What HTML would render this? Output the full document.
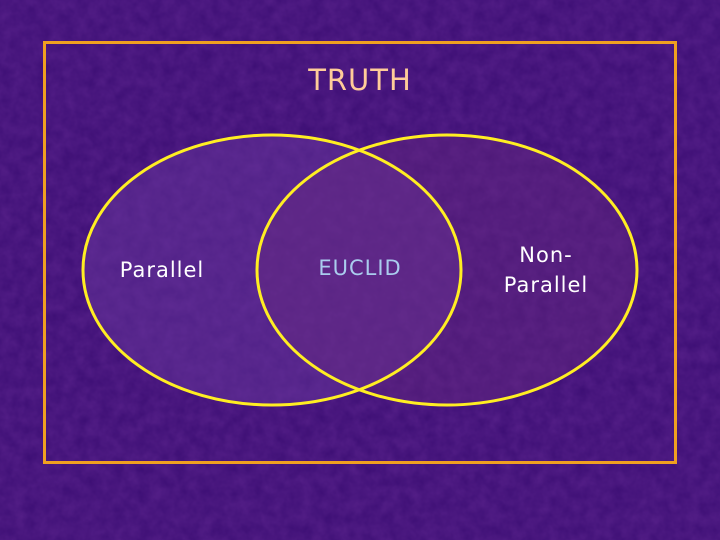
<!DOCTYPE html>
<html><head><meta charset="utf-8"><style>
html,body{margin:0;padding:0;width:720px;height:540px;overflow:hidden;background:#3c0e74}
svg{display:block}
text{font-family:"Comic Sans MS","DejaVu Sans","Liberation Sans",sans-serif}
</style></head><body>
<svg width="720" height="540" viewBox="0 0 720 540">
<defs>
<filter id="tex" x="0" y="0" width="100%" height="100%">
<feTurbulence type="fractalNoise" baseFrequency="0.08" numOctaves="3" seed="3"/>
<feColorMatrix values="0 0 0 0 0.32  0 0 0 0 0.08  0 0 0 0 0.52  0 0 0 0.6 0"/>
</filter>
</defs>
<rect x="0" y="0" width="720" height="540" fill="#3c0e74"/>
<rect x="0" y="0" width="720" height="540" filter="url(#tex)" opacity="0.45"/>
<rect x="44.5" y="42.5" width="631" height="420" fill="none" stroke="#f0a020" stroke-width="3"/>
<text x="360" y="90" text-anchor="middle" font-size="29" letter-spacing="1" fill="#ffcc99">TRUTH</text>
<ellipse cx="272" cy="270" rx="189" ry="135" fill="#6a3aa0" fill-opacity="0.45"/>
<ellipse cx="447" cy="270" rx="190" ry="135" fill="#6a2a80" fill-opacity="0.4"/>
<ellipse cx="272" cy="270" rx="189" ry="135" fill="none" stroke="#ffee22" stroke-width="3"/>
<ellipse cx="447" cy="270" rx="190" ry="135" fill="none" stroke="#ffee22" stroke-width="3"/>
<text x="162" y="277" text-anchor="middle" font-size="21" letter-spacing="1" fill="#ffffff">Parallel</text>
<text x="360" y="275" text-anchor="middle" font-size="21" letter-spacing="1" fill="#aaccee">EUCLID</text>
<text x="546" y="262" text-anchor="middle" font-size="21" letter-spacing="1" fill="#ffffff">Non-</text>
<text x="546" y="292" text-anchor="middle" font-size="21" letter-spacing="1" fill="#ffffff">Parallel</text>
</svg>
</body></html>
